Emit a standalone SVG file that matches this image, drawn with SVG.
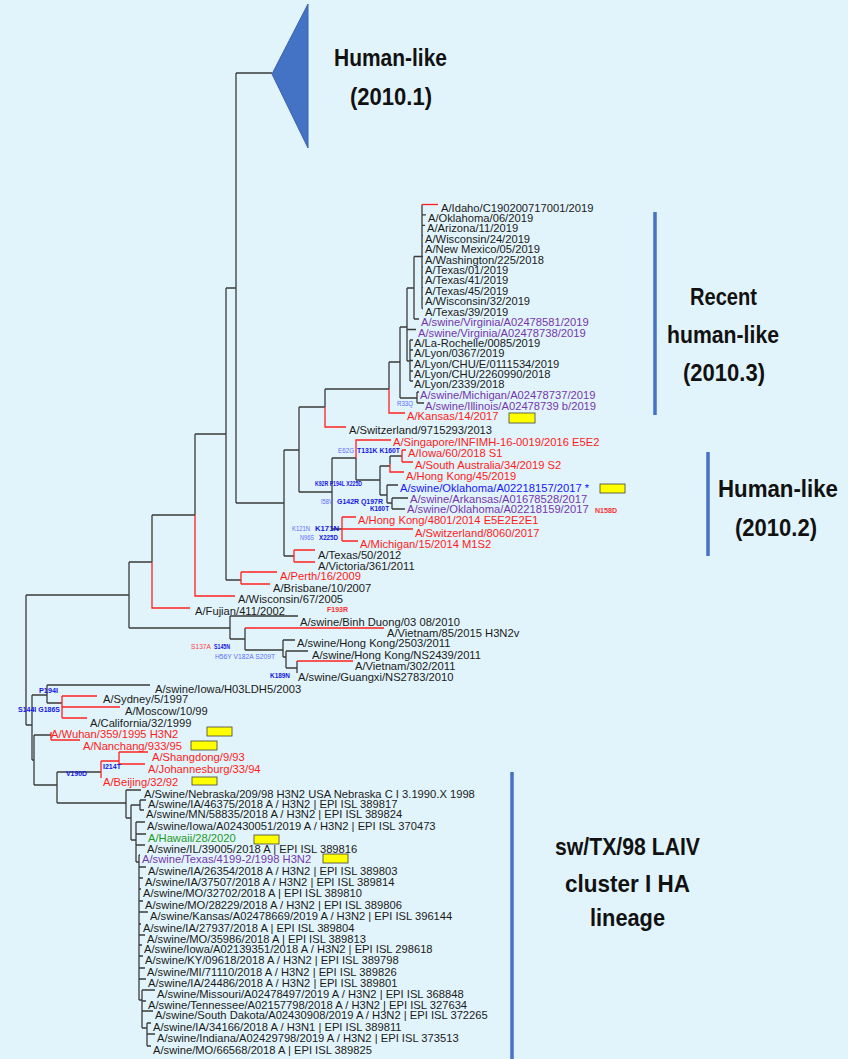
<svg xmlns="http://www.w3.org/2000/svg" width="848" height="1059" viewBox="0 0 848 1059">
<style>
.k{stroke:#3a3a3a;stroke-width:1.3;fill:none}
.r{stroke:#ff2020;stroke-width:1.3;fill:none}
text{font-family:"Liberation Sans",Arial,sans-serif}
.t{font-size:11.2px;fill:#1a1a1a}
.tr{font-size:11.2px;fill:#ff1a1a}
.tp{font-size:11.2px;fill:#7436ad}
.tb{font-size:11.2px;fill:#1515ff}
.tg{font-size:11.2px;fill:#1f9a1f}
.mb{font-size:7px;font-weight:bold;fill:#1414e6}
.ml{font-size:7px;fill:#5c6cff}
.mr{font-size:7px;font-weight:bold;fill:#ff3030}
.mrl{font-size:7px;fill:#ff4040}
.h{font-size:24px;font-weight:bold;fill:#111}
.y{fill:#ffff00;stroke:#404040;stroke-width:0.8}
.bar{stroke:#4472c4;stroke-width:3.5}
</style>
<rect x="0" y="0" width="848" height="1059" fill="#e2f4fb"/>

<g id="tree-connectors">
<!-- backbone -->
<path class="k" d="M26 595V725M26 595H129M129 562V628M129 562H152M152 515V562M152 515H195M195 434V515M195 434H226M226 288V580M226 288H236M236 73V503M236 73H272M236 503H284M284 450V556M284 556H294M284 450H299M299 407V492M299 407H325M325 389V407M325 389H389M389 362V389M389 362H400"/>
<path class="r" d="M152 562V608H190M195 515V596H235M294 550V562M294 550H315M294 562H315M325 407V427H346M389 389V413H405"/>
<!-- recent human-like clade -->
<path class="k" d="M400 327V398M400 398H417M417 392V403M417 392H419M417 403H424M400 327H407M407 288V361M407 288H414M407 329.5H416M407 361H410M410 340V381M410 340H413M410 350H413M410 360.5H413M410 371H413M410 381H413M414 256.5V319M414 319H419M414 256.5H422M422 204.5V308.5M422 214.9H426M422 225.3H425M422 235.7H423M422 246.1H423M422 256.5H423M422 266.9H423M422 277.3H423M422 287.7H423M422 298.1H423M422 308.5H423"/>
<path class="r" d="M422 204.5H438"/>
<!-- 2010.2 clade -->
<path class="k" d="M299 492H332M332 458V529M332 458H356M356 458V480M356 480H380M380 466V495M380 466H390M390 456V464M390 456H402M380 495H387M387 485V503M387 485H398M387 503H392M392 498V509M392 498H408M392 509H405M332 529H342"/>
<path class="r" d="M356 458V440H391M390 464V472H404M402 450V462M402 450H406M402 462H413M342 517V541M342 517H356M342 529H413M342 541H358"/>
<!-- Perth / Wisconsin / Fujian / swine Asia -->
<path class="k" d="M226 580H241M129 628H230M230 616V639M230 616H298M230 639H245M245 628V650M245 650H283M283 640V657M283 640H295M283 657H286M286 651V668M286 651H308M286 668H297M297 661V673"/>
<path class="r" d="M241 572V584M241 572H277M241 584H270M245 628H384M297 661H353"/>
<!-- older human / swine -->
<path class="k" d="M26 725H32M32 695V760M32 695H47M47 685V703M47 685H150M47 703H62M32 760H34M34 735V785M34 735H51M34 785H57M57 772V803M57 772H101M57 803H126"/>
<path class="r" d="M62 696V718M62 696H97M62 707H120M62 718H87M51 732V740M51 740H80M101 761V778M101 761H119M119 752V764M119 752H148M119 764H145"/>
<!-- sw/TX/98 LAIV cluster -->
<path class="k" d="M126 790V818M126 790H141M126 818H131M131 805V840M131 805H140M140 800V810M140 800H146M140 810H144M131 840H136M136 822V862M136 822H145M136 834H146M136 845H145M136 862H139M139 855V1000M139 855H140M139 867H146M139 878H143M139 889H141M139 901H143M139 912H148M139 924H141M139 935H145M139 945H142M139 956H143M139 968H145M139 979H146M139 1000H142M142 990V1028M142 990H155M142 1001H146M142 1011H153M142 1028H147M147 1023V1046M147 1023H151M147 1034H155M147 1046H151"/>
</g>

<g id="clade-2010-1">
<polygon points="272,74 308,4 308,148" fill="#4472c4" stroke="#3a62b0" stroke-width="1"/>
<text class="h" x="334" y="66" textLength="113" lengthAdjust="spacingAndGlyphs">Human-like</text>
<text class="h" x="350" y="105" textLength="82" lengthAdjust="spacingAndGlyphs">(2010.1)</text>
</g>

<g id="clade-2010-3">
<line class="bar" x1="655" y1="212" x2="655" y2="415"/>
<text class="h" x="690" y="305" textLength="67" lengthAdjust="spacingAndGlyphs">Recent</text>
<text class="h" x="667" y="343" textLength="112" lengthAdjust="spacingAndGlyphs">human-like</text>
<text class="h" x="683" y="381" textLength="82" lengthAdjust="spacingAndGlyphs">(2010.3)</text>
</g>

<g id="clade-2010-2">
<line class="bar" x1="708" y1="452" x2="708" y2="556"/>
<text class="h" x="718" y="497" textLength="120" lengthAdjust="spacingAndGlyphs">Human-like</text>
<text class="h" x="735" y="536" textLength="82" lengthAdjust="spacingAndGlyphs">(2010.2)</text>
</g>

<g id="clade-laiv">
<line class="bar" x1="512" y1="772" x2="512" y2="1059"/>
<text class="h" x="555" y="855" textLength="145" lengthAdjust="spacingAndGlyphs">sw/TX/98 LAIV</text>
<text class="h" x="565" y="892" textLength="125" lengthAdjust="spacingAndGlyphs">cluster I HA</text>
<text class="h" x="590" y="926" textLength="75" lengthAdjust="spacingAndGlyphs">lineage</text>
</g>

<g id="markers">
<rect class="y" x="509" y="413" width="26" height="10"/>
<rect class="y" x="600" y="484" width="25" height="9"/>
<rect class="y" x="207" y="727" width="25" height="9"/>
<rect class="y" x="191" y="741" width="26" height="9"/>
<rect class="y" x="192" y="777" width="25" height="8"/>
<rect class="y" x="254" y="835" width="25" height="9"/>
<rect class="y" x="323" y="854" width="25" height="9"/>
</g>

<g id="mutations">
<text class="ml" x="397" y="405.5" textLength="16" lengthAdjust="spacingAndGlyphs">R33Q</text>
<text class="ml" x="338" y="452.5" textLength="16" lengthAdjust="spacingAndGlyphs">E62G</text>
<text class="mb" x="357" y="452.5" textLength="43" lengthAdjust="spacingAndGlyphs">T131K K160T</text>
<text class="mb" x="315" y="485.5" textLength="47" lengthAdjust="spacingAndGlyphs">K92R P194L X225D</text>
<text class="ml" x="321" y="503.5" textLength="12" lengthAdjust="spacingAndGlyphs">I58V</text>
<text class="mb" x="337" y="503.5" textLength="46" lengthAdjust="spacingAndGlyphs">G142R Q197R</text>
<text class="mb" x="370" y="510.5" textLength="19" lengthAdjust="spacingAndGlyphs">K160T</text>
<text class="mr" x="595" y="512.5" textLength="22" lengthAdjust="spacingAndGlyphs">N158D</text>
<text class="ml" x="292" y="531" textLength="18" lengthAdjust="spacingAndGlyphs">K121N</text>
<text class="mb" x="315" y="531" textLength="24" lengthAdjust="spacingAndGlyphs">K171N</text>
<text class="ml" x="300" y="540" textLength="14" lengthAdjust="spacingAndGlyphs">N96S</text>
<text class="mb" x="319" y="540" textLength="19" lengthAdjust="spacingAndGlyphs">X225D</text>
<text class="mr" x="327" y="611.5" textLength="21" lengthAdjust="spacingAndGlyphs">F193R</text>
<text class="mrl" x="191" y="648.5" textLength="20" lengthAdjust="spacingAndGlyphs">S137A</text>
<text class="mb" x="214" y="648.5" textLength="16" lengthAdjust="spacingAndGlyphs">S145N</text>
<text class="ml" x="215" y="658.5" textLength="60" lengthAdjust="spacingAndGlyphs">H56Y V182A S209T</text>
<text class="mb" x="270" y="677.5" textLength="20" lengthAdjust="spacingAndGlyphs">K189N</text>
<text class="mb" x="39" y="692.5" textLength="19" lengthAdjust="spacingAndGlyphs">P194I</text>
<text class="mb" x="18" y="711.5" textLength="42" lengthAdjust="spacingAndGlyphs">S144I G186S</text>
<text class="mb" x="103" y="768.5" textLength="18" lengthAdjust="spacingAndGlyphs">I214T</text>
<text class="mb" x="66" y="775.5" textLength="21" lengthAdjust="spacingAndGlyphs">V190D</text>
</g>

<g id="leaves-2010-3">
<g id="leaf-idaho"><text class="t" x="441" y="211.5">A/Idaho/C190200717001/2019</text></g>
<g id="leaf-oklahoma06"><text class="t" x="428" y="221.9">A/Oklahoma/06/2019</text></g>
<g id="leaf-arizona"><text class="t" x="427" y="232.3">A/Arizona/11/2019</text></g>
<g id="leaf-wisconsin24"><text class="t" x="425" y="242.7">A/Wisconsin/24/2019</text></g>
<g id="leaf-newmexico"><text class="t" x="425" y="253.1">A/New Mexico/05/2019</text></g>
<g id="leaf-washington"><text class="t" x="425" y="263.5">A/Washington/225/2018</text></g>
<g id="leaf-texas01"><text class="t" x="425" y="273.9">A/Texas/01/2019</text></g>
<g id="leaf-texas41"><text class="t" x="425" y="284.3">A/Texas/41/2019</text></g>
<g id="leaf-texas45"><text class="t" x="425" y="294.7">A/Texas/45/2019</text></g>
<g id="leaf-wisconsin32"><text class="t" x="425" y="305.1">A/Wisconsin/32/2019</text></g>
<g id="leaf-texas39"><text class="t" x="425" y="315.5">A/Texas/39/2019</text></g>
<g id="leaf-swva1"><text class="tp" x="421" y="326">A/swine/Virginia/A02478581/2019</text></g>
<g id="leaf-swva2"><text class="tp" x="418" y="336.5">A/swine/Virginia/A02478738/2019</text></g>
<g id="leaf-larochelle"><text class="t" x="414" y="347">A/La-Rochelle/0085/2019</text></g>
<g id="leaf-lyon0367"><text class="t" x="414" y="357">A/Lyon/0367/2019</text></g>
<g id="leaf-lyonchue"><text class="t" x="414" y="367.5">A/Lyon/CHU/E/0111534/2019</text></g>
<g id="leaf-lyonchu"><text class="t" x="414" y="378">A/Lyon/CHU/2260990/2018</text></g>
<g id="leaf-lyon2339"><text class="t" x="414" y="388">A/Lyon/2339/2018</text></g>
<g id="leaf-swmi"><text class="tp" x="420" y="399">A/swine/Michigan/A02478737/2019</text></g>
<g id="leaf-swil"><text class="tp" x="425" y="409.5">A/swine/Illinois/A02478739 b/2019</text></g>
<g id="leaf-kansas"><text class="tr" x="407" y="420">A/Kansas/14/2017</text></g>
<g id="leaf-switz2013"><text class="t" x="349" y="434">A/Switzerland/9715293/2013</text></g>
</g>

<g id="leaves-2010-2">
<g id="leaf-singapore"><text class="tr" x="393" y="446">A/Singapore/INFIMH-16-0019/2016 E5E2</text></g>
<g id="leaf-iowa60"><text class="tr" x="408" y="457">A/Iowa/60/2018 S1</text></g>
<g id="leaf-southaus"><text class="tr" x="415" y="468.5">A/South Australia/34/2019 S2</text></g>
<g id="leaf-hk45"><text class="tr" x="406" y="480">A/Hong Kong/45/2019</text></g>
<g id="leaf-swok157"><text class="tb" x="400" y="491.5">A/swine/Oklahoma/A02218157/2017 *</text></g>
<g id="leaf-swar"><text class="tp" x="410" y="502.5">A/swine/Arkansas/A01678528/2017</text></g>
<g id="leaf-swok159"><text class="tp" x="407" y="513">A/swine/Oklahoma/A02218159/2017</text></g>
<g id="leaf-hk4801"><text class="tr" x="358" y="524">A/Hong Kong/4801/2014 E5E2E2E1</text></g>
<g id="leaf-switz8060"><text class="tr" x="415" y="537">A/Switzerland/8060/2017</text></g>
<g id="leaf-michigan15"><text class="tr" x="360" y="548">A/Michigan/15/2014 M1S2</text></g>
<g id="leaf-texas50"><text class="t" x="318" y="559">A/Texas/50/2012</text></g>
<g id="leaf-victoria"><text class="t" x="318" y="570">A/Victoria/361/2011</text></g>
</g>

<g id="leaves-older">
<g id="leaf-perth"><text class="tr" x="280" y="580">A/Perth/16/2009</text></g>
<g id="leaf-brisbane"><text class="t" x="273" y="592">A/Brisbane/10/2007</text></g>
<g id="leaf-wisconsin67"><text class="t" x="238" y="603">A/Wisconsin/67/2005</text></g>
<g id="leaf-fujian"><text class="t" x="195" y="615">A/Fujian/411/2002</text></g>
<g id="leaf-binhduong"><text class="t" x="300" y="626">A/swine/Binh Duong/03 08/2010</text></g>
<g id="leaf-vietnam85"><text class="t" x="387" y="637">A/Vietnam/85/2015 H3N2v</text></g>
<g id="leaf-swhk2503"><text class="t" x="297" y="647">A/swine/Hong Kong/2503/2011</text></g>
<g id="leaf-swhkns"><text class="t" x="312" y="659">A/swine/Hong Kong/NS2439/2011</text></g>
<g id="leaf-vietnam302"><text class="t" x="355" y="670">A/Vietnam/302/2011</text></g>
<g id="leaf-guangxi"><text class="t" x="298" y="681">A/swine/Guangxi/NS2783/2010</text></g>
<g id="leaf-swiowah03"><text class="t" x="155" y="693">A/swine/Iowa/H03LDH5/2003</text></g>
<g id="leaf-sydney"><text class="t" x="103" y="703">A/Sydney/5/1997</text></g>
<g id="leaf-moscow"><text class="t" x="125" y="715">A/Moscow/10/99</text></g>
<g id="leaf-california"><text class="t" x="90" y="727">A/California/32/1999</text></g>
<g id="leaf-wuhan"><text class="tr" x="51" y="738">A/Wuhan/359/1995 H3N2</text></g>
<g id="leaf-nanchang"><text class="tr" x="83" y="750">A/Nanchang/933/95</text></g>
<g id="leaf-shangdong"><text class="tr" x="152" y="761">A/Shangdong/9/93</text></g>
<g id="leaf-johannesburg"><text class="tr" x="148" y="773">A/Johannesburg/33/94</text></g>
<g id="leaf-beijing"><text class="tr" x="103" y="786">A/Beijing/32/92</text></g>
</g>

<g id="leaves-laiv">
<g id="leaf-l01"><text class="t" x="144" y="798">A/Swine/Nebraska/209/98 H3N2 USA Nebraska C I 3.1990.X 1998</text></g>
<g id="leaf-l02"><text class="t" x="148" y="808">A/swine/IA/46375/2018 A / H3N2 | EPI ISL 389817</text></g>
<g id="leaf-l03"><text class="t" x="146" y="818">A/swine/MN/58835/2018 A / H3N2 | EPI ISL 389824</text></g>
<g id="leaf-l04"><text class="t" x="147" y="830">A/swine/Iowa/A02430051/2019 A / H3N2 | EPI ISL 370473</text></g>
<g id="leaf-l05"><text class="tg" x="148" y="842">A/Hawaii/28/2020</text></g>
<g id="leaf-l06"><text class="t" x="147" y="853">A/swine/IL/39005/2018 A | EPI ISL 389816</text></g>
<g id="leaf-l07"><text class="tp" x="142" y="863">A/swine/Texas/4199-2/1998 H3N2</text></g>
<g id="leaf-l08"><text class="t" x="148" y="875">A/swine/IA/26354/2018 A / H3N2 | EPI ISL 389803</text></g>
<g id="leaf-l09"><text class="t" x="145" y="886">A/swine/IA/37507/2018 A / H3N2 | EPI ISL 389814</text></g>
<g id="leaf-l10"><text class="t" x="143" y="897">A/swine/MO/32702/2018 A | EPI ISL 389810</text></g>
<g id="leaf-l11"><text class="t" x="145" y="909">A/swine/MO/28229/2018 A / H3N2 | EPI ISL 389806</text></g>
<g id="leaf-l12"><text class="t" x="150" y="920">A/swine/Kansas/A02478669/2019 A / H3N2 | EPI ISL 396144</text></g>
<g id="leaf-l13"><text class="t" x="143" y="932">A/swine/IA/27937/2018 A | EPI ISL 389804</text></g>
<g id="leaf-l14"><text class="t" x="147" y="943">A/swine/MO/35986/2018 A | EPI ISL 389813</text></g>
<g id="leaf-l15"><text class="t" x="144" y="953">A/swine/Iowa/A02139351/2018 A / H3N2 | EPI ISL 298618</text></g>
<g id="leaf-l16"><text class="t" x="145" y="964">A/swine/KY/09618/2018 A / H3N2 | EPI ISL 389798</text></g>
<g id="leaf-l17"><text class="t" x="147" y="976">A/swine/MI/71110/2018 A / H3N2 | EPI ISL 389826</text></g>
<g id="leaf-l18"><text class="t" x="148" y="987">A/swine/IA/24486/2018 A / H3N2 | EPI ISL 389801</text></g>
<g id="leaf-l19"><text class="t" x="157" y="998">A/swine/Missouri/A02478497/2019 A / H3N2 | EPI ISL 368848</text></g>
<g id="leaf-l20"><text class="t" x="148" y="1009">A/swine/Tennessee/A02157798/2018 A / H3N2 | EPI ISL 327634</text></g>
<g id="leaf-l21"><text class="t" x="155" y="1019">A/swine/South Dakota/A02430908/2019 A / H3N2 | EPI ISL 372265</text></g>
<g id="leaf-l22"><text class="t" x="153" y="1031">A/swine/IA/34166/2018 A / H3N1 | EPI ISL 389811</text></g>
<g id="leaf-l23"><text class="t" x="157" y="1042">A/swine/Indiana/A02429798/2019 A / H3N2 | EPI ISL 373513</text></g>
<g id="leaf-l24"><text class="t" x="153" y="1054">A/swine/MO/66568/2018 A | EPI ISL 389825</text></g>
</g>
</svg>
